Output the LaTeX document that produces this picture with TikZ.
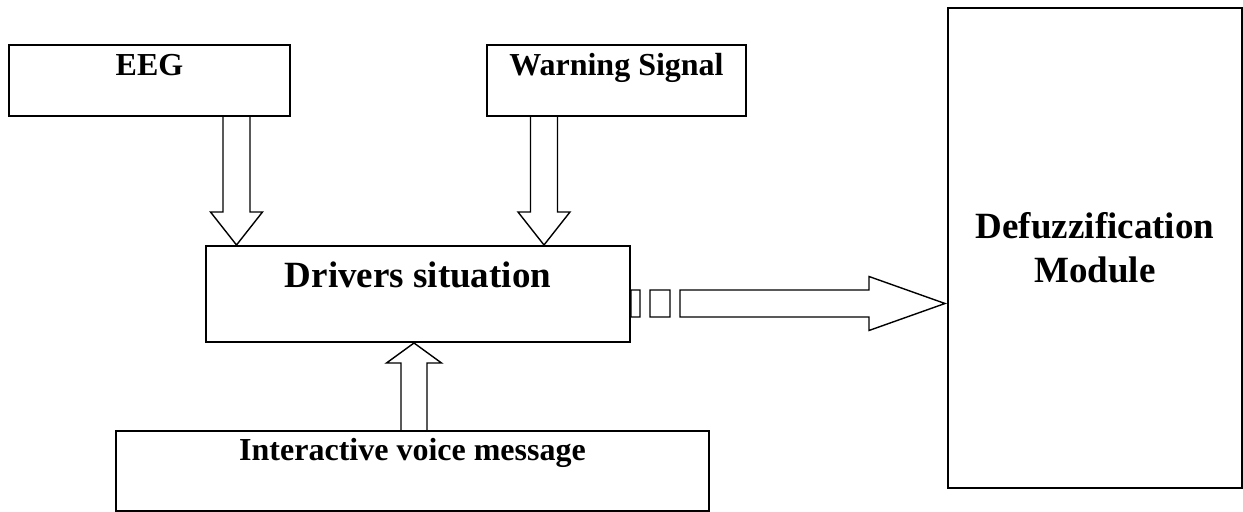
\documentclass[tikz,border=0pt]{standalone}
\usepackage{fontspec}
\setmainfont{Liberation Serif}
\usetikzlibrary{positioning,calc}

\begin{document}
\begin{tikzpicture}[
	x=0.5pt, y=-0.5pt,
	blk/.style={
		draw, line width=1pt, inner sep=0pt, anchor=north west
	},
	small/.style={font=\fontsize{16}{19}\selectfont\bfseries},
	large/.style={font=\fontsize{18.5}{22}\selectfont\bfseries},
	fat/.style={draw, line width=0.7pt, line join=miter}
	]
	\useasboundingbox (0,0) rectangle (1243,512);

	\node[blk,small,minimum width=140.5pt,text height=15.5pt,text depth=20pt] (eeg) at (8,44) {EEG};
	\node[blk,small,minimum width=129.5pt,text height=15.5pt,text depth=20pt] (warn) at (486,44) {Warning Signal};
	\node[blk,large,minimum width=212pt,text height=21pt,text depth=27pt] (drv) at (205,245) {Drivers situation};
	\node[blk,small,minimum width=296.5pt,text height=15pt,text depth=25pt] (ivm) at (115,430) {Interactive voice message};
	\node[blk,large,align=center,minimum width=147pt,minimum height=240pt] (dfz) at (947,7) {Defuzzification\\Module};

	\coordinate (ea) at (236.5,0);
	\coordinate (wa) at (544,0);
	\coordinate (ua) at (414,0);
	\coordinate (ra) at (0,303.5);

	\foreach \s/\a in {eeg/ea,warn/wa}
	\draw[fat] let \p1=(\a |- \s.south), \p2=(\a |- drv.north) in
		(\x1-6.75pt,\y1) -- (\x1-6.75pt,\y2+16.5pt) -- (\x1-13pt,\y2+16.5pt) -- (\p2)
		-- (\x1+13pt,\y2+16.5pt) -- (\x1+6.75pt,\y2+16.5pt) -- (\x1+6.75pt,\y1);

	\draw[fat] let \p1=(ua |- ivm.north), \p2=(ua |- drv.south) in
		(\x1-6.5pt,\y1) -- (\x1-6.5pt,\y2-10pt) -- (\x1-13.75pt,\y2-10pt) -- (\p2)
		-- (\x1+13.75pt,\y2-10pt) -- (\x1+6.5pt,\y2-10pt) -- (\x1+6.5pt,\y1);

	\draw[fat] let \p1=(drv.east |- ra), \p2=(dfz.west |- ra) in
		(\x1,\y1-6.75pt) rectangle (\x1+4.5pt,\y1+6.75pt)
		(\x1+9.5pt,\y1-6.75pt) rectangle (\x1+19.5pt,\y1+6.75pt)
		(\x1+24.5pt,\y1-6.75pt) -- (\x2-39pt,\y1-6.75pt) -- (\x2-39pt,\y1-13.5pt) -- (\x2-1pt,\y1)
		-- (\x2-39pt,\y1+13.5pt) -- (\x2-39pt,\y1+6.75pt) -- (\x1+24.5pt,\y1+6.75pt) -- cycle;
\end{tikzpicture}
\end{document}
